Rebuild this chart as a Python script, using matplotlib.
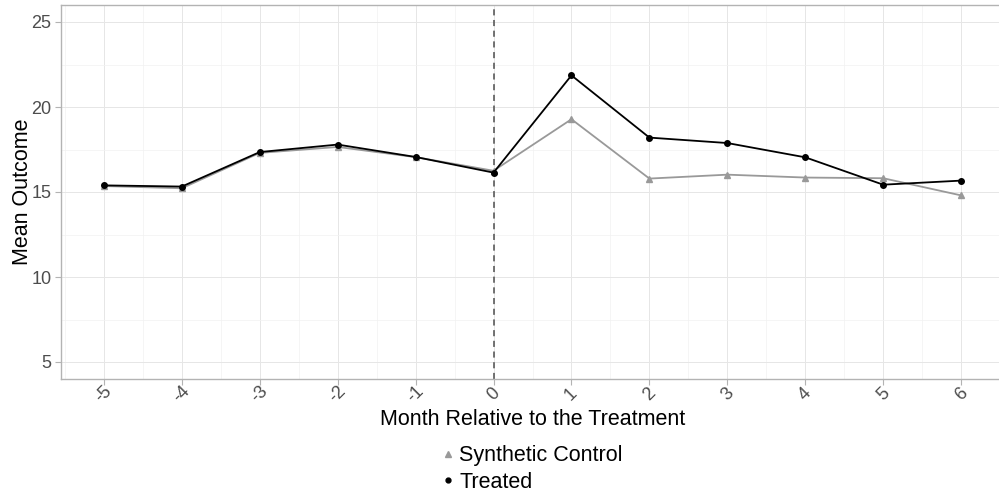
import matplotlib
matplotlib.use("Agg")
import matplotlib.pyplot as plt
from matplotlib.lines import Line2D
from matplotlib.ticker import MultipleLocator

plt.rcParams['font.family'] = ['Liberation Sans', 'DejaVu Sans']

months = [-5, -4, -3, -2, -1, 0, 1, 2, 3, 4, 5, 6]
treated = [15.39, 15.32, 17.35, 17.79, 17.06, 16.14, 21.86, 18.20, 17.88, 17.04, 15.43, 15.67]
synthetic = [15.35, 15.22, 17.30, 17.65, 17.05, 16.25, 19.28, 15.79, 16.02, 15.85, 15.81, 14.80]
y_ticks = [5, 10, 15, 20, 25]
x_labels = [str(m) for m in months]

W, H = 999, 495
fig = plt.figure(figsize=(W / 100, H / 100), dpi=100)
left, right, top, bottom = 61, 1004, 5, 379
ax = fig.add_axes([left / W, 1 - bottom / H, (right - left) / W, (bottom - top) / H])

ax.set_xlim(-5.55, 6.55)
ax.set_ylim(4.0, 26.0)
ax.set_xticks(months)
ax.set_xticklabels(x_labels, rotation=45, ha='center', va='center', rotation_mode='anchor')
ax.set_yticks(y_ticks)
ax.xaxis.set_minor_locator(MultipleLocator(0.5))
ax.yaxis.set_minor_locator(MultipleLocator(2.5))

ax.grid(which='major', color='#e6e6e6', linewidth=0.7)
ax.grid(which='minor', color='#f2f2f2', linewidth=0.5)
ax.set_axisbelow(True)

for s in ['left', 'top', 'bottom']:
    ax.spines[s].set_color('#b3b3b3')
    ax.spines[s].set_linewidth(1.0)
ax.spines['right'].set_visible(False)

ax.tick_params(axis='both', which='major', colors='#b3b3b3', length=4, width=0.8,
               labelcolor='#4d4d4d', labelsize=13)
ax.tick_params(axis='x', pad=7)
ax.tick_params(axis='y', pad=3)
ax.tick_params(axis='both', which='minor', length=0)

ax.axvline(0, color='#4d4d4d', linestyle=(0, (4, 3)), linewidth=1.1, zorder=2)

ax.plot(months, synthetic, color='#999999', linewidth=1.3, marker='^', markersize=4.5, zorder=3)
ax.plot(months, treated, color='black', linewidth=1.3, marker='o', markersize=4, zorder=4)

ax.set_xlabel('Month Relative to the Treatment', fontsize=15.5, labelpad=2)
ax.set_ylabel('Mean Outcome', fontsize=15.5, labelpad=-1)

handles = [
    Line2D([], [], color='#999999', marker='^', linestyle='none', markersize=4),
    Line2D([], [], color='black', marker='o', linestyle='none', markersize=3.5),
]
fig.legend(handles, ['Synthetic Control', 'Treated'], loc='center',
           bbox_to_anchor=(532 / W, 1 - 469 / H), frameon=False, fontsize=15.5,
           handlelength=0.6, handletextpad=0.25, labelspacing=0.25, borderpad=0)

fig.savefig('out.png', dpi=100)
